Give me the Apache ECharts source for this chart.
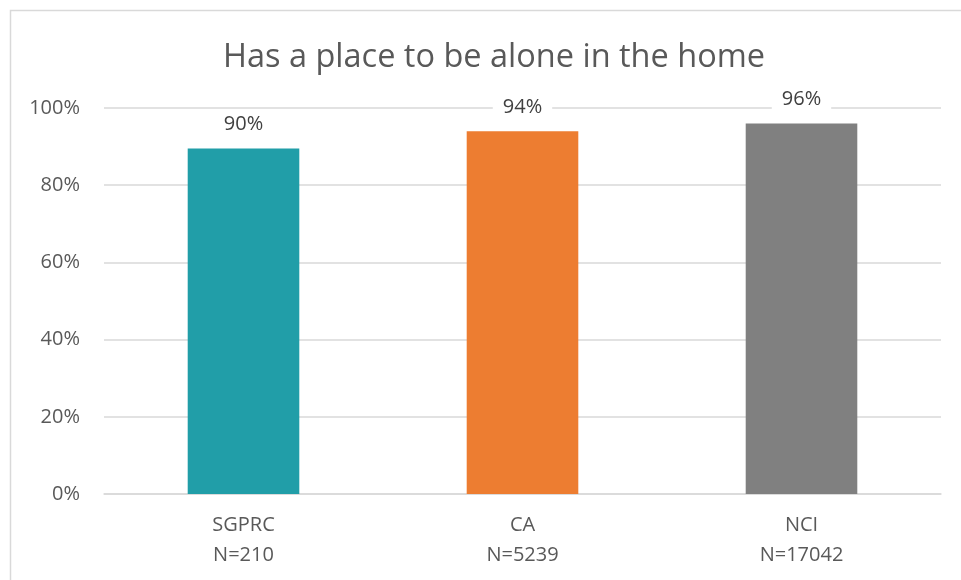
<!DOCTYPE html>
<html><head><meta charset="utf-8">
<script src="https://cdn.jsdelivr.net/npm/echarts@6/dist/echarts.min.js"></script>
<style>html,body{margin:0;padding:0;background:#fff}#c{width:961px;height:580px}</style>
</head><body><div id="c"></div>
<script>
const categories = ['SGPRC\nN=210', 'CA\nN=5239', 'NCI\nN=17042'];
const values = [0.895, 0.94, 0.96];
const colors = ['#219EA8', '#ED7D31', '#808080'];
const yTicks = [0, 0.2, 0.4, 0.6, 0.8, 1.0];
const titleText = 'Has a place to be alone in the home';

const font = '"Open Sans", "Noto Sans", sans-serif';
const chart = echarts.init(document.getElementById('c'), null, {renderer: 'canvas'});
chart.setOption({
  animation: false,
  backgroundColor: '#fff',
  graphic: [{
    type: 'rect', shape: {x: 10.5, y: 10.5, width: 1000, height: 1000},
    style: {fill: 'none', stroke: '#D9D9D9', lineWidth: 1.5}, silent: true
  }],
  title: {
    text: titleText, left: 218, top: 36,
    textStyle: {fontFamily: font, fontSize: 32.5, fontWeight: 'normal', color: '#595959'}
  },
  grid: {left: 104, right: 20, top: 108, bottom: 86, containLabel: false},
  xAxis: {
    type: 'category', data: categories,
    axisLine: {lineStyle: {color: '#D9D9D9', width: 1.5}},
    axisTick: {show: false},
    axisLabel: {fontFamily: font, fontSize: 20, color: '#595959', lineHeight: 30, margin: 16}
  },
  yAxis: {
    type: 'value', min: yTicks[0], max: yTicks[yTicks.length - 1], interval: 0.2,
    axisLine: {show: false}, axisTick: {show: false},
    splitLine: {lineStyle: {color: '#D9D9D9', width: 1.5}},
    axisLabel: {fontFamily: font, fontSize: 20, color: '#595959', margin: 24,
      formatter: v => Math.round(v * 100) + '%'}
  },
  series: [{
    type: 'bar', barWidth: '40%',
    data: values.map((v, i) => ({value: v, itemStyle: {color: colors[i]}})),
    label: {
      show: true, position: 'top', distance: 12,
      fontFamily: font, fontSize: 20, color: '#404040',
      backgroundColor: '#fff', padding: [2, 10],
      formatter: p => Math.round(p.value * 100) + '%'
    }
  }]
});
</script></body></html>
